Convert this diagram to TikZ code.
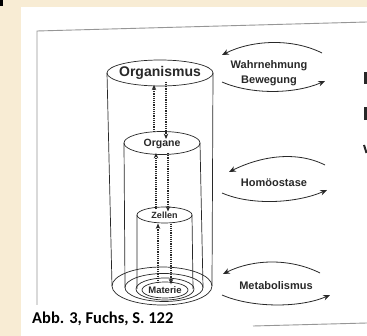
\documentclass[tikz,border=0pt]{standalone}
\usepackage{fontspec}
\setsansfont{Liberation Sans}
\newfontfamily\capfont{Carlito}
\usepackage{tikz}
\usetikzlibrary{arrows.meta,calc}
\definecolor{paper}{RGB}{248,236,212}
\definecolor{ink}{RGB}{40,40,40}
\definecolor{rule}{RGB}{150,150,150}
\tikzset{
  shell/.style={draw=ink,line width=0.7pt},
  lvl/.style={font=\sffamily\bfseries\fontsize{#1}{#1}\selectfont,text=ink,inner sep=1pt,align=center},
  flow/.style={draw=ink,line width=1.5pt,dash pattern=on 1.2pt off 1pt,-{Stealth[length=1.9mm,width=1.6mm]}},
  swing/.style={draw=ink,line width=0.8pt,-{Stealth[length=2.4mm,width=2mm]}},
  frame/.style={draw=rule,line width=0.9pt},
}

\begin{document}
\begin{tikzpicture}[x=1pt,y=-1pt]
  \useasboundingbox (0,0) rectangle (367,336);
  \fill[paper] (0,0) rectangle (367,336);
  \fill[white] (21,7) rectangle (367,336);
  \fill[black] (0,0) rectangle (2.5,6);
  \draw[frame] (37,305) -- (37,31) -- (367,22);
  \draw[frame] (253,326) -- (367,323);
  % scan marks at the right edge
  \fill[ink] (364,72) rectangle (367,84);
  \fill[ink] (364,107) rectangle (367,120);
  \draw[ink,line width=2pt] (364,145) -- (366.5,153);

  \coordinate (orgT) at (160,73);
  \coordinate (orgB) at (162,286);
  \coordinate (orgaT) at (162,143);
  \coordinate (orgaB) at (164,287.5);
  \coordinate (zelT) at (164.5,215);
  \coordinate (zelB) at (165,289);
  \coordinate (matC) at (165,290);

  \draw[shell] (orgT) ellipse [x radius=53pt,y radius=13pt];
  \draw[shell] (orgB) ellipse [x radius=50pt,y radius=19pt];
  \draw[shell] ($(orgT)+(-53,0)$) -- ($(orgB)+(-50,0)$) ($(orgT)+(53,0)$) -- ($(orgB)+(50,0)$);
  \draw[shell] (orgaT) ellipse [x radius=38pt,y radius=11.5pt];
  \draw[shell] (orgaB) ellipse [x radius=39pt,y radius=14pt];
  \draw[shell] ($(orgaT)+(-38,0)$) -- ($(orgaB)+(-39,0)$) ($(orgaT)+(38,0)$) -- ($(orgaB)+(39,0)$);
  \draw[shell] (zelT) ellipse [x radius=27.5pt,y radius=8pt];
  \draw[shell] (zelB) ellipse [x radius=29pt,y radius=11pt];
  \draw[shell] ($(zelT)+(-27.5,0)$) -- ($(zelB)+(-28,0)$) ($(zelT)+(27.5,0)$) -- ($(zelB)+(28,0)$);
  \draw[shell] (matC) ellipse [x radius=23pt,y radius=8pt];

  \node[lvl=14] (organismus) at (orgT) {Organismus};
  \node[lvl=10.5] (organe) at ($(orgaT)+(0,1)$) {Organe};
  \node[lvl=9] (zellen) at (zelT) {Zellen};
  \node[lvl=9.5] (materie) at (matC) {Materie};

  \draw[flow] ([xshift=-8pt,yshift=6pt]organe.north) -- ([xshift=-6pt,yshift=-4pt]organismus.south);
  \draw[flow] ([xshift=6pt,yshift=-1pt]organismus.south) -- ([xshift=4pt,yshift=-1pt]organe.north);
  \draw[flow] ([xshift=-8.5pt,yshift=1pt]zellen.north) -- ([xshift=-6pt,yshift=-3pt]organe.south);
  \draw[flow] ([xshift=6pt,yshift=-3pt]organe.south) -- ([xshift=3.5pt,yshift=-1pt]zellen.north);
  \draw[flow] ([xshift=-7pt,yshift=2pt]materie.north) -- ([xshift=-6.5pt,yshift=-4pt]zellen.south);
  \draw[flow] ([xshift=6.5pt,yshift=-4pt]zellen.south) -- ([xshift=6pt,yshift=1pt]materie.north);

  \node[lvl=11,font=\sffamily\bfseries\fontsize{11}{15}\selectfont] (sense) at (269,73) {Wahrnehmung\\Bewegung};
  \node[lvl=11] (homeo) at (274,183) {Homöostase};
  \node[lvl=11] (metab) at (276,286) {Metabolismus};

  \coordinate (senseR1) at (322,53);
  \coordinate (senseL1) at (222,55);
  \coordinate (senseL2) at (222,82);
  \coordinate (senseR2) at (325,81);
  \coordinate (homeoR1) at (325,165);
  \coordinate (homeoL1) at (229,172);
  \coordinate (homeoL2) at (222,193);
  \coordinate (homeoR2) at (327,190);
  \coordinate (metabR1) at (320,273);
  \coordinate (metabL1) at (223,274);
  \coordinate (metabL2) at (222,295);
  \coordinate (metabR2) at (330,295);
  \foreach \n in {sense,homeo,metab}{
    \draw[swing] (\n R1) .. controls +(-30,-15) and +(30,-15) .. (\n L1);
    \draw[swing] (\n L2) .. controls +(30,13) and +(-30,13) .. (\n R2);
  }

  \node[anchor=base west,inner sep=0pt,font=\capfont\bfseries\fontsize{16.5}{18}\selectfont] (caption) at (32,323.5) {Abb. 3, Fuchs, S. 122};
\end{tikzpicture}
\end{document}
